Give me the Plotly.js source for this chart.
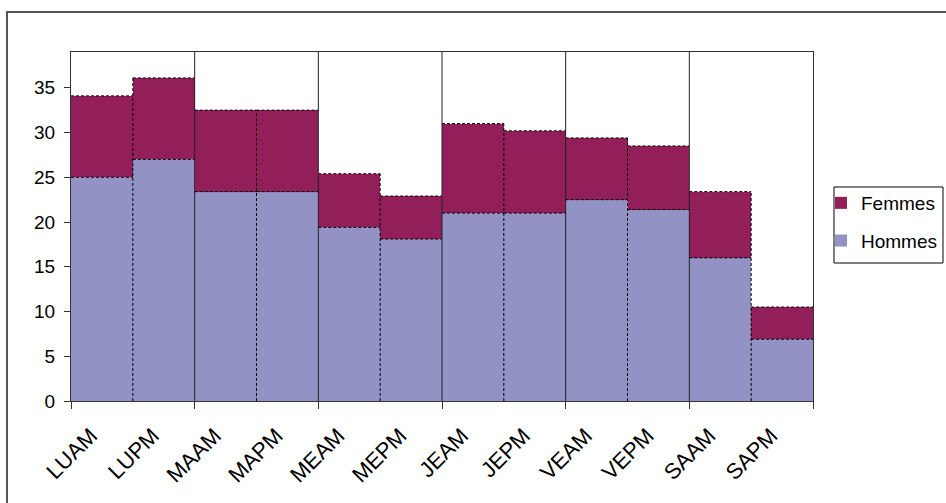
<!DOCTYPE html>
<html>
<head>
<meta charset="utf-8">
<script src="https://cdn.plot.ly/plotly-3.0.1.min.js"></script>
<style>
html,body{margin:0;padding:0;background:#fff;overflow:hidden;}
#wrap{position:relative;width:946px;height:503px;}
#chart{width:946px;height:503px;}
#frame{position:absolute;left:6px;top:11px;width:980px;height:540px;border-left:2px solid #555;border-top:2px solid #555;pointer-events:none;}
</style>
</head>
<body>
<div id="wrap"><div id="chart"></div><div id="frame"></div></div>
<script>
const categories = ["LUAM","LUPM","MAAM","MAPM","MEAM","MEPM","JEAM","JEPM","VEAM","VEPM","SAAM","SAPM"];
const hommes = [25, 27, 23.4, 23.4, 19.4, 18.1, 21, 21, 22.5, 21.4, 16, 6.9];
const femmes = [9.1, 9.1, 9.1, 9.1, 6.0, 4.8, 10.0, 9.2, 6.9, 7.1, 7.4, 3.6];
const yTicks = [0, 5, 10, 15, 20, 25, 30, 35];

const n = categories.length;
const idx = categories.map((_, i) => i);
const totals = hommes.map((h, i) => h + femmes[i]);
const FONT = "Liberation Sans, Arial, sans-serif";

// dashed outlines of every bar segment
const ox = [], oy = [];
for (let i = 0; i < n; i++) {
  [hommes[i], totals[i]].forEach(v => { ox.push(i - 0.5, i + 0.5, null); oy.push(v, v, null); });
}
for (let j = 1; j < n; j += 2) {
  const top = Math.max(totals[j - 1], totals[j]);
  ox.push(j - 0.5, j - 0.5, null); oy.push(0, top, null);
}
// solid vertical separators every two categories
const gx = [], gy = [];
for (let j = 2; j < n; j += 2) { gx.push(j - 0.5, j - 0.5, null); gy.push(0, 39, null); }
const bounds = [];
for (let j = 0; j <= n; j += 2) bounds.push(j - 0.5);

const traces = [
  {type: "bar", name: "Hommes", x: idx, y: hommes, marker: {color: "#9292C4", line: {width: 0}}, legendgroup: "h", legendrank: 2, hoverinfo: "skip"},
  {type: "bar", name: "Femmes", x: idx, y: femmes, marker: {color: "#921E5A", line: {width: 0}}, legendgroup: "f", legendrank: 1, hoverinfo: "skip"},
  {type: "scatter", mode: "lines", x: ox, y: oy, showlegend: false, line: {color: "#000", width: 1, dash: "3px,2px"}, hoverinfo: "skip"},
  {type: "scatter", mode: "lines", x: gx, y: gy, xaxis: "x2", showlegend: false, line: {color: "#222", width: 1}, hoverinfo: "skip"}
];

const layout = {
  width: 946, height: 503,
  margin: {l: 71, r: 133, t: 52, b: 102, autoexpand: false},
  paper_bgcolor: "#fff", plot_bgcolor: "#fff",
  barmode: "stack", bargap: 0,
  font: {family: FONT, size: 19, color: "#000"},
  xaxis: {
    range: [-0.5, n - 0.5], tickvals: idx, ticktext: categories, tickangle: -45,
    ticks: "", showgrid: false, zeroline: false,
    showline: true, mirror: true, linecolor: "#333", linewidth: 1,
    tickfont: {family: FONT, size: 22, color: "#000"},
    ticklabelstandoff: 12, ticklabelshift: -11
  },
  xaxis2: {
    overlaying: "x", anchor: "y", side: "bottom", range: [-0.5, n - 0.5],
    tickvals: bounds, showticklabels: false, ticks: "outside", ticklen: 7, tickcolor: "#333",
    showgrid: false, zeroline: false, showline: false
  },
  yaxis: {
    range: [0, 39], tickvals: yTicks, ticks: "outside", ticklen: 6, tickcolor: "#333",
    showgrid: false, zeroline: false, showline: true, mirror: true, linecolor: "#333", linewidth: 1,
    tickfont: {family: FONT, size: 19, color: "#000"}, ticklabelstandoff: 5
  },
  legend: {
    xref: "container", yref: "container",
    x: 821 / 946, xanchor: "left", y: 1 - 184 / 503, yanchor: "top",
    borderwidth: 0, bgcolor: "rgba(0,0,0,0)",
    font: {family: FONT, size: 19, color: "#000"},
    traceorder: "grouped", tracegroupgap: 10, itemwidth: 30
  },
  shapes: [
    {type: "rect", xref: "paper", yref: "paper", x0: 1.0283, x1: 1.1752, y0: 0.3954, y1: 0.6132,
     line: {color: "#000", width: 1}, fillcolor: "rgba(0,0,0,0)", layer: "below"}
  ],
  showlegend: true
};

Plotly.newPlot("chart", traces, layout, {staticPlot: true, displayModeBar: false});
</script>
</body>
</html>
